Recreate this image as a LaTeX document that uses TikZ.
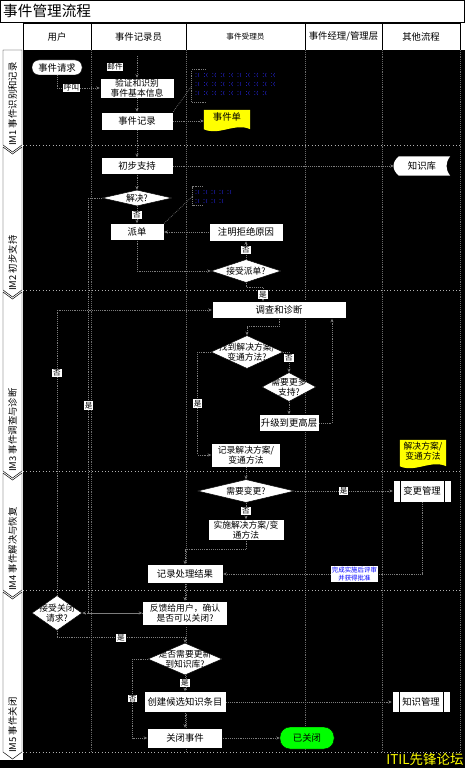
\documentclass[tikz,border=0pt]{standalone}
\usepackage{fontspec}
\setmainfont{Noto Sans CJK SC}
\usetikzlibrary{arrows.meta, shapes.geometric, positioning, calc, backgrounds}
\definecolor{LineGray}{RGB}{125,125,125}
\definecolor{LaneGray}{RGB}{105,105,105}
\definecolor{BandGray}{RGB}{175,175,175}
\definecolor{DocYellow}{RGB}{255,255,0}
\definecolor{DoneGreen}{RGB}{0,255,0}
\definecolor{NoteBlue}{RGB}{40,40,235}
\definecolor{ReviewBlue}{RGB}{0,0,255}
\newcommand{\px}{0.03cm}

\begin{document}
\begin{tikzpicture}[x=\px, y=-\px, font=\fontsize{8}{9}\selectfont,
	box/.style 2 args={rectangle, draw=black, fill=white, inner sep=0pt, align=center, minimum width=#1*\px, minimum height=#2*\px},
	term/.style 2 args={box={#1}{#2}, rounded corners={#2*0.45*\px}},
	dia/.style 2 args={diamond, draw=black, fill=white, inner sep=0pt, minimum width=#1*\px, minimum height=#2*\px},
	dtxt/.style={align=center, inner sep=0pt, font=\fontsize{7.5}{8.5}\selectfont},
	two/.style={font=\fontsize{7.5}{8.4}\selectfont},
	predef/.style 2 args={box={#1}{#2}, path picture={
		\draw[black] ([xshift=7*\px]path picture bounding box.north west) -- ([xshift=7*\px]path picture bounding box.south west)
		([xshift=-7*\px]path picture bounding box.north east) -- ([xshift=-7*\px]path picture bounding box.south east);}},
	doc/.style 2 args={rectangle, inner sep=0pt, align=center, minimum width=#1*\px, minimum height=#2*\px},
	lab/.style={fill=white, text=black, inner sep=0.6pt, font=\fontsize{6.5}{6.5}\selectfont},
	review/.style={fill=white, text=ReviewBlue, inner sep=0.8pt, align=center, font=\fontsize{5.5}{6.2}\selectfont},
	fl/.style={LineGray, densely dotted, line width=0.6pt, -{Stealth[length=3pt, width=2.6pt]}},
	annot/.style={LineGray, densely dotted, line width=0.6pt},
	lane/.style={LaneGray, densely dotted, line width=0.6pt},
	band/.style={BandGray, dotted, line width=0.8pt},
	head/.style={inner sep=0pt, font=\fontsize{8}{8}\selectfont},
	phase/.style={rotate=90, anchor=west, inner sep=0pt, font=\fontsize{8}{8}\selectfont},
	noteglyph/.pic={\fill (0,-1.6) circle[radius=0.45] (0,1.6) circle[radius=0.45];
		\draw[line width=0.3pt] (3,-2) .. controls (1.6,0) .. (3,2);}]

	\useasboundingbox (0,0) rectangle (465,768);
	\begin{scope}[on background layer]
		\fill[black] (0,0) rectangle (465,768);
		\fill[white] (0,0) rectangle (465,50);
		\fill[white] (0,50) rectangle (23,760);
	\end{scope}

	% titel und kopfzeile
	\draw[black, line width=0.6pt] (0.3,0.3) rectangle (464.7,22);
	\node[anchor=west, inner sep=0pt, font=\fontsize{12.5}{13}\selectfont] (title) at (3,11) {事件管理流程};
	\draw[black] (23,22) -- (23,50);
	\foreach \xa/\xb/\name [count=\i] in {23/91/用户, 91/186/事件记录员, 186/305/{\fontsize{6.5}{7}\selectfont 事件受理员}, 305/382/{事件经理/管理层}, 382/460/其他流程}{
		\draw[black, fill=white] (\xa,23) rectangle (\xb,50);
		\node[head] (hd\i) at ({(\xa+\xb)/2},36.5) {\name};
	}

	% phasen
	\foreach \t/\n/\b/\name [count=\i] in {50/0/145/{IM1 事件识别和记录}, 147/7/290/{IM2 初步支持}, 292/7/471/{IM3 事件调查与诊断}, 473/7/590/{IM4 事件解决与恢复}, 592/7/752/{IM5 事件关闭}}{
		\draw[black, fill=white] (3,\t) -- (12.5,\t+\n) -- (22,\t) -- (22,\b) -- (12.5,\b+7) -- (3,\b) -- cycle;
		\node[phase] (ph\i) at (12.5,\b+1) {\name};
	}
	\foreach \x in {91,186,305,382,460}{\draw[lane] (\x,50) -- (\x,752);}
	\foreach \y in {145,290,471,590,752}{\draw[band] (23,\y) -- (460,\y);}

	% IM1
	\node[term={50}{15}] (req) at (57,67.5) {事件请求};
	\node[box={74}{20}, two] (verify) at (137,88) {验证和识别\\事件基本信息};
	\node[box={72}{18}] (rec1) at (137,121) {事件记录};
	\node[doc={46}{14}] (dan) at (227,117) {事件单};
	\node[minimum width=84*\px, minimum height=32*\px, inner sep=0pt] (note1) at (234,86) {};
	\coordinate (mailin) at (137,56);
	\node[lab] (mail) at (115,67) {邮件};
	\foreach \r/\n in {0/9, 1/9, 2/8}{\foreach \c in {0,...,\n}{\pic[NoteBlue] at (196+\c*8.4, 75+\r*9) {noteglyph};}}

	% IM2
	\node[box={72}{17}] (init) at (137,166) {初步支持};
	\node[doc={56}{19}] (kb) at (422,166) {知识库};
	\node[dia={70}{16}, label={[dtxt]center:解决?}] (solved) at (137,198) {};
	\node[box={54}{17}] (disp) at (137,232) {派单};
	\node[box={74}{18}] (reject) at (246,232) {注明拒绝原因};
	\node[minimum width=38*\px, minimum height=18*\px, inner sep=0pt] (note2) at (212,196) {};
	\foreach \r/\n in {0/4, 1/3}{\foreach \c in {0,...,\n}{\pic[NoteBlue] at (196+\c*8, 192+\r*9) {noteglyph};}}
	\node[dia={70}{23}, label={[dtxt]center:接受派单?}] (acc) at (246,271) {};

	% IM3
	\node[box={134}{17}] (inv) at (279,310) {调查和诊断};
	\node[dia={72}{33}, label={[dtxt]center:{找到解决方案/\\变通方法?}}] (found) at (247,352) {};
	\node[dia={54}{29}, label={[dtxt]center:{需要更多\\支持?}}] (more) at (289,387) {};
	\node[box={60}{17}] (esc) at (289,423) {升级到更高层};
	\node[box={69}{24}, two] (recsol) at (246,455) {记录解决方案/\\变通方法};
	\node[doc={46}{22}, two] (soldoc) at (423,451) {解决方案/\\变通方法};

	% IM4
	\node[dia={97}{23}, label={[dtxt]center:需要变更?}] (chg) at (246,491) {};
	\node[predef={58}{22}] (cm) at (422,491) {变更管理};
	\node[box={76}{21}, two] (impl) at (246,530) {实施解决方案/变\\通方法};
	\node[box={76}{19}] (recres) at (185,574) {记录处理结果};

	% IM5
	\node[dia={50}{35}, label={[dtxt]center:{接受关闭\\请求?}}] (accclose) at (57,613) {};
	\node[box={85}{24}, two] (fb) at (185,613) {反馈给用户，确认\\是否可以关闭?};
	\node[dia={74}{32}, label={[dtxt]center:{是否需要更新\\到知识库?}}] (upd) at (185,659) {};
	\node[box={82}{21}] (cand) at (185,702) {创建候选知识条目};
	\node[predef={58}{21}] (km) at (421,702) {知识管理};
	\node[box={75}{20}] (close) at (185,738) {关闭事件};
	\node[term={54}{22}, fill=DoneGreen] (closed) at (307,738) {已关闭};

	\node[anchor=south east, text=DocYellow, inner sep=1pt, font=\fontsize{11.5}{12}\selectfont] (mark) at (465,767) {ITIL先锋论坛};

	% formen hinter den knoten
	\begin{scope}[on background layer]
		\fill[DocYellow] (dan.north west) -- (dan.north east) -- ([yshift=-5*\px]dan.south east)
			.. controls +(-15,-7) and +(15,7) .. ([yshift=-5*\px]dan.south west) -- cycle;
		\fill[DocYellow] (soldoc.north west) -- (soldoc.north east) -- ([yshift=-4*\px]soldoc.south east)
			.. controls +(-15,-7) and +(15,7) .. ([yshift=-4*\px]soldoc.south west) -- cycle;
		\fill[white] ([xshift=5*\px]kb.north west) -- (kb.north east) .. controls +(-5,6) and +(-5,-6) .. (kb.south east)
			-- ([xshift=5*\px]kb.south west) .. controls +(-7,-6) and +(-7,6) .. ([xshift=5*\px]kb.north west) -- cycle;
	\end{scope}

	% verbindungen
	\draw[fl] (req.south) |- node[lab, pos=0.67] (call) {呼叫} (verify.west);
	\draw[fl] (mailin) -- (verify.north);
	\draw[fl] (verify) -- (rec1);
	\draw[fl] (rec1.east) -- (rec1.east -| dan.west);
	\draw[annot] (rec1.north east) -- (note1.west);
	\draw[annot] ([xshift=14*\px]note1.north west) -| (note1.south west) -- ++(14,0);
	\draw[fl] (rec1) -- (init);
	\draw[fl] (init.east) -- (kb.west);
	\draw[fl] (init) -- (solved);
	\draw[fl] (solved) -- node[lab] (no1) {否} (disp);
	\draw[fl] (solved.west) -- ++(-13,0) |- node[lab, pos=0.25] (yes3) {是} (fb.west);
	\draw[annot] (disp.north east) -- (note2.west);
	\draw[annot] ([xshift=10*\px]note2.north west) -| (note2.south west) -- ++(10,0);
	\draw[fl] (reject) -- (disp);
	\draw[fl] (disp.south) |- (acc.west);
	\draw[fl] (acc) -- node[lab] (no2) {否} (reject);
	\draw[fl] (acc.south) -- ++(0,5) -| node[lab, pos=0.75] (yes1) {是} ([xshift=-16*\px]inv.north);

	\draw[fl] (inv.south) -- ++(0,8) -| (found.north);
	\draw[fl] (found.east) -| node[lab, pos=0.65] (no3) {否} (more.north);
	\draw[fl] (more) -- (esc);
	\draw[fl] (esc.east) -| ([xshift=53*\px]inv.south);
	\draw[fl] (found.west) -- ++(-13,0) |- node[lab, pos=0.25] (yes2) {是} (recsol.west);
	\draw[fl] (accclose.north) |- node[lab, pos=0.39] (no4) {否} (inv.west);
	\draw[fl] (recsol) -- (chg);

	\draw[fl] (chg) -- node[lab] (yes4) {是} (cm);
	\draw[fl] (chg) -- node[lab] (no5) {否} (impl);
	\draw[fl] (impl.south) -- ++(0,9) -| (recres.north);
	\draw[fl] (cm.south) |- node[review, pos=0.67] (review) {完成实施后评审\\并获得批准} (recres.east);
	\draw[fl] (recres) -- (fb);

	\draw[fl] (fb.west) -- (accclose.east);
	\draw[fl] (accclose.south) -- ++(0,7) -| node[lab, pos=0.25] (yes5) {是} (upd.north);
	\draw[fl] (upd) -- node[lab] (yes6) {是} (cand);
	\draw[fl] (upd.west) -- ++(-15,0) |- node[lab, pos=0.25] (no6) {否} (close.west);
	\draw[fl] (cand) -- (km);
	\draw[fl] (cand) -- (close);
	\draw[fl] (close) -- (closed);
\end{tikzpicture}
\end{document}
